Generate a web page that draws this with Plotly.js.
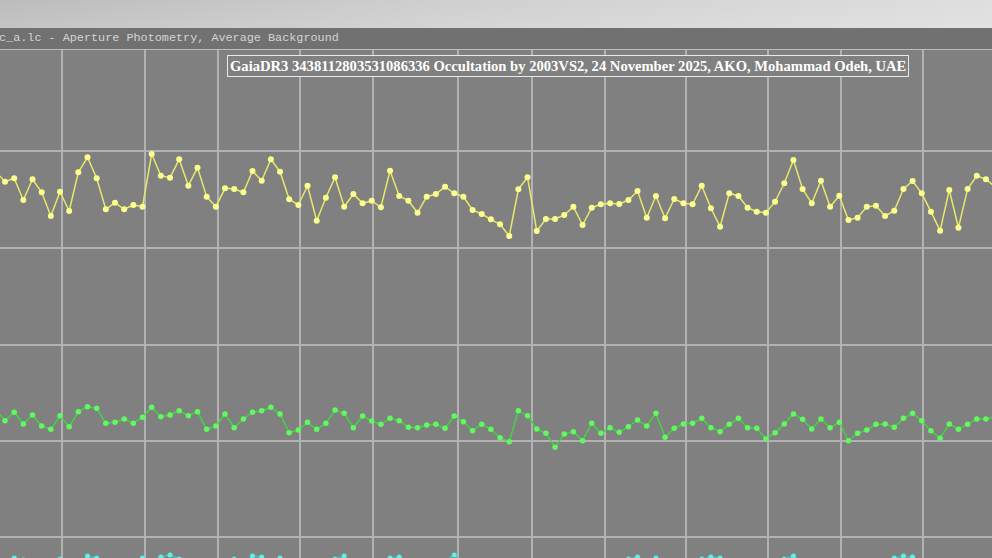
<!DOCTYPE html>
<html>
<head>
<meta charset="utf-8">
<script src="https://cdn.plot.ly/plotly-3.0.1.min.js"></script>
<style>
  html, body { margin: 0; padding: 0; width: 992px; height: 558px; overflow: hidden; background: #7f7f7f; }
  #chart { position: absolute; left: 0; top: 0; width: 992px; height: 558px; }
  #topbar { position: absolute; left: 0; top: 0; width: 992px; height: 28px; z-index: 5;
    background: linear-gradient(to bottom, rgba(255,255,255,0) 0%, rgba(255,255,255,0.12) 100%),
                linear-gradient(to right, #bcbcbc 0%, #cfcfcf 45%, #dedede 100%); }
</style>
</head>
<body>
<div id="chart"></div>
<div id="topbar"></div>
<script>
// Frame numbers (x positions of the samples)
const frames = [-1,0,1,2,3,4,5,6,7,8,9,10,11,12,13,14,15,16,17,18,19,20,21,22,23,24,25,26,27,28,29,
  30,31,32,33,34,35,36,37,38,39,40,41,42,43,44,45,46,47,48,49,50,51,52,53,54,55,56,57,58,59,
  60,61,62,63,64,65,66,67,68,69,70,71,72,73,74,75,76,77,78,79,80,81,82,83,84,85,86,87,88,89,
  90,91,92,93,94,95,96,97,98,99,100,101,102,103,104,105,106,107,108];

// Target star (yellow)
const targetFlux = [3863,3763,3797,3580,3787,3657,3420,3663,3470,3857,4007,3797,3487,3553,3487,3530,3513,4040,3823,3803,
  3987,3723,3903,3613,3513,3697,3690,3657,3870,3773,3987,3863,3587,3530,3723,3373,3603,3807,3513,3640,
  3547,3573,3507,3873,3620,3573,3453,3613,3640,3713,3647,3613,3480,3440,3387,3337,3220,3687,3807,3270,
  3390,3390,3430,3513,3330,3503,3537,3547,3540,3580,3670,3403,3620,3397,3590,3547,3537,3723,3497,3313,
  3647,3620,3503,3463,3453,3563,3747,3980,3690,3547,3773,3513,3623,3380,3403,3513,3523,3420,3473,3690,
  3770,3647,3463,3273,3680,3303,3690,3823,3787,3713];

// Comparison star (green)
const compFlux = [1480,1373,1457,1340,1430,1320,1287,1423,1313,1463,1513,1497,1347,1357,1390,1347,1407,1507,1413,1430,
  1473,1423,1463,1287,1320,1440,1303,1390,1457,1473,1507,1440,1253,1280,1357,1287,1347,1480,1447,1303,
  1420,1370,1337,1397,1373,1307,1303,1330,1337,1297,1420,1363,1273,1337,1287,1203,1163,1473,1423,1290,
  1247,1107,1240,1263,1173,1347,1247,1303,1257,1313,1380,1320,1447,1207,1297,1340,1347,1397,1303,1263,
  1337,1397,1303,1297,1190,1253,1340,1440,1387,1290,1390,1303,1357,1173,1247,1280,1337,1340,1307,1397,
  1447,1373,1273,1197,1340,1287,1337,1390,1390,1413];

// Third star (cyan), mostly below the visible window
const thirdFlux = [-80,-40,0,-20,-110,-140,-90,-10,-60,-50,20,0,-100,-130,-80,-70,0,-50,10,30,
  -10,-90,-140,-110,-80,-60,-10,-40,20,10,-40,0,-110,-80,-50,-40,-30,-10,20,-70,
  -50,-40,-30,0,10,-80,-110,-60,-50,-30,30,-60,-120,-100,-140,-170,-180,-110,-90,-130,
  -150,-190,-140,-120,-160,-80,-100,-70,-40,-10,10,-30,0,-100,-60,-50,-30,-10,10,0,
  -60,-50,-70,-80,-110,-40,-10,20,-30,-80,-50,-70,-60,-130,-110,-90,-70,-60,0,20,
  10,-40,-80,-120,-60,-90,-50,-40,-60,-70];

// Grid positions
const xGrid = [6.22,15.27,23.23,32.18,40.14,49.41,57.48,65.44,74.28,83.22,91.19,100.13];
const yGrid = [4070,3100,2130,1170,210];

const headerText = "c_a.lc - Aperture Photometry, Average Background";
const titleText = "GaiaDR3 3438112803531086336 Occultation by 2003VS2, 24 November 2025, AKO, Mohammad Odeh, UAE";

const traces = [
  { x: frames, y: thirdFlux, type: 'scatter', mode: 'lines+markers',
    line: { color: '#36cfc4', width: 1.2 }, marker: { color: '#5ef0e2', size: 5 }, hoverinfo: 'skip' },
  { x: frames, y: compFlux, type: 'scatter', mode: 'lines+markers',
    line: { color: '#3fd83f', width: 1.4 }, marker: { color: '#62f862', size: 5.5 }, hoverinfo: 'skip' },
  { x: frames, y: targetFlux, type: 'scatter', mode: 'lines+markers',
    line: { color: '#e6e86a', width: 1.5 }, marker: { color: '#fbfd8c', size: 6 }, hoverinfo: 'skip' }
];

const layout = {
  width: 992, height: 558,
  margin: { l: 0, r: 0, t: 50, b: 0, pad: 0 },
  paper_bgcolor: '#717171',
  plot_bgcolor: '#808080',
  showlegend: false,
  xaxis: {
    range: [-0.545, 107.66], tickmode: 'array', tickvals: xGrid, showticklabels: false,
    showgrid: true, gridcolor: '#b2b2b2', gridwidth: 1.3, zeroline: false,
    showline: true, mirror: true, linecolor: '#bdbdbd', linewidth: 1.5, ticks: ''
  },
  yaxis: {
    range: [0, 5080], tickmode: 'array', tickvals: yGrid, showticklabels: false,
    showgrid: true, gridcolor: '#b2b2b2', gridwidth: 1.3, zeroline: false,
    showline: false, ticks: ''
  },
  annotations: [
    { text: headerText, xref: 'paper', yref: 'paper', x: 0, y: 1 + 12/508, xanchor: 'left', yanchor: 'middle',
      xshift: -3, showarrow: false, font: { family: 'Liberation Mono, DejaVu Sans Mono, monospace', size: 11.8, color: '#d4d4d4' } },
    { text: '<b>' + titleText + '</b>', xref: 'paper', yref: 'paper', x: 567.5/992, y: (558-66)/508,
      xanchor: 'center', yanchor: 'middle', showarrow: false,
      bgcolor: '#808080', bordercolor: '#e8e8e8', borderwidth: 1, borderpad: 2,
      font: { family: 'Liberation Serif, Times New Roman, serif', size: 14.6, color: '#ffffff' } }
  ]
};

Plotly.newPlot('chart', traces, layout, { staticPlot: true, displayModeBar: false });
</script>
</body>
</html>
